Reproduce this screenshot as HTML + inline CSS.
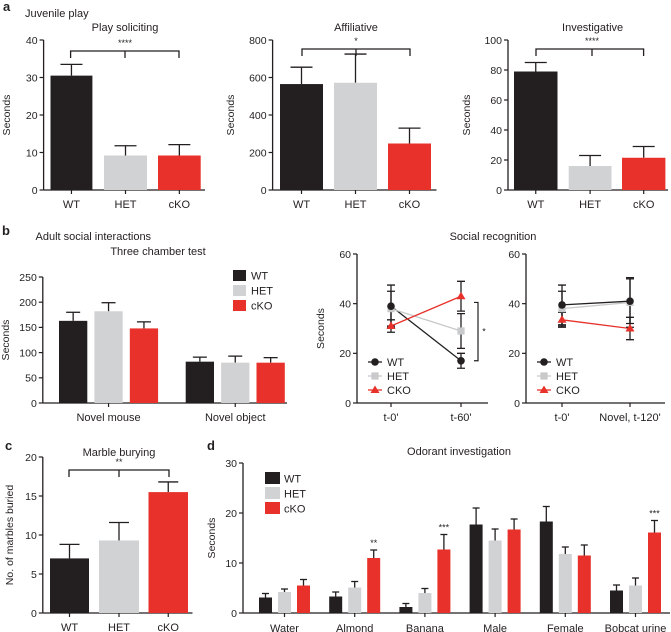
<!DOCTYPE html>
<html><head><meta charset="utf-8"><style>
html,body{margin:0;padding:0;background:#fff;}
svg{display:block;font-family:"Liberation Sans",sans-serif;}
text{fill:#231f20;}
</style></head><body>
<svg id="fig" width="671" height="632" viewBox="0 0 671 632" xmlns="http://www.w3.org/2000/svg"></svg>
<script>
// ---- data ----
const groups3 = ["WT","HET","cKO"];
const playVals = [30.5, 9.2, 9.2];
const playErr = [3.0, 2.6, 2.9];
const affVals = [565, 572, 248];
const affErr = [90, 153, 82];
const invVals = [79, 16, 21.5];
const invErr = [6, 7, 7.5];
const tickPlay = [0,10,20,30,40];
const tickAff = [0,200,400,600,800];
const tickInv = [0,20,40,60,80,100];

const chamberCats = ["Novel mouse","Novel object"];
const chamberWT = [163, 82];
const chamberHET = [182, 80];
const chamberKO = [148, 80];
const chamberWTErr = [17, 9];
const chamberHETErr = [17, 13];
const chamberKOErr = [13, 10];
const tickChamber = [0,50,100,150,200,250];

const recCats1 = ["t-0'","t-60'"];
const recWT1 = [39, 17];
const recWT1Err = [8.5, 3];
const recHET1 = [38, 29];
const recHET1Err = [7, 7];
const recKO1 = [31, 43];
const recKO1Err = [2.5, 6];
const recCats2 = ["t-0'","Novel, t-120'"];
const recWT2 = [39.5, 41];
const recWT2Err = [8, 9];
const recHET2 = [38, 40.5];
const recHET2Err = [7, 10];
const recKO2 = [33.5, 30];
const recKO2Err = [3, 4.5];
const tickRec = [0,20,40,60];

const marbleVals = [7, 9.3, 15.5];
const marbleErr = [1.8, 2.3, 1.3];
const tickMarble = [0,5,10,15,20];

const odorCats = ["Water","Almond","Banana","Male","Female","Bobcat urine"];
const odorWT = [3.1, 3.3, 1.2, 17.7, 18.3, 4.5];
const odorHET = [4.2, 5.1, 4.0, 14.5, 11.8, 5.5];
const odorKO = [5.5, 11.0, 12.7, 16.7, 11.5, 16.1];
const odorWTErr = [0.8, 0.9, 0.7, 3.3, 3.0, 1.1];
const odorHETErr = [0.6, 1.2, 0.9, 2.3, 1.4, 1.5];
const odorKOErr = [1.2, 1.6, 3.0, 2.1, 2.1, 2.4];
const odorStars = ["","**","***","","","***"];
const tickOdor = [0,10,20,30];

const C = {wt:"#231f20", het:"#d1d2d4", ko:"#e8312a"};
const NS = "http://www.w3.org/2000/svg";
const svg = document.getElementById("fig");

function mk(tag, attrs, parent){
  const e = document.createElementNS(NS, tag);
  for (const k in attrs) e.setAttribute(k, attrs[k]);
  (parent||svg).appendChild(e);
  return e;
}
function txt(x,y,s,size,anchor,parent,name,extra){
  const t = mk("text",{x:x,y:y,"font-size":size,"text-anchor":anchor||"middle"},parent);
  t.textContent = s;
  
  
  if (extra) for (const k in extra) t.setAttribute(k, extra[k]);
  return t;
}
function yAxis(ax, x, y0, y1, ticks, yScale, xEnd, label, labelX, name){
  const g = mk("g",{});
  
  
  const l = mk("line",{x1:x,y1:y0,x2:x,y2:y1,stroke:"#231f20","stroke-width":1.3},g);
  
  
  const xl = mk("line",{x1:x,y1:y0,x2:xEnd,y2:y0,stroke:"#231f20","stroke-width":1.3},g);
  
  
  ticks.forEach(v=>{
    const y = yScale(v);
    const tl = mk("line",{x1:x-4,y1:y,x2:x,y2:y,stroke:"#231f20","stroke-width":1.2},g);
    
    
    txt(x-6, y+3.8, String(v), 10.5, "end", g, 'y-tick-label');
  });
  if (label){
    const cy = (y0+y1)/2;
    txt(labelX, cy, label, 10.5, "middle", g, 'y-axis-title', {transform:`rotate(-90 ${labelX} ${cy})`});
  }
  return g;
}
function bar(g, x0, x1, v, err, ys, color, capW, name){
  const y = ys(v), yb = ys(0);
  const cx = (x0+x1)/2;
  const ey = ys(v+err);
  const el = mk("line",{x1:cx,y1:y,x2:cx,y2:ey,stroke:"#231f20","stroke-width":1.3},g);
  
  
  const cap = mk("line",{x1:cx-capW/2,y1:ey,x2:cx+capW/2,y2:ey,stroke:"#231f20","stroke-width":1.3},g);
  
  
  const r = mk("rect",{x:x0,y:y,width:x1-x0,height:yb-y,fill:color},g);
  
  
}
function bracket(g, xa, xb, xm, y, drop, stars, name){
  const p = mk("path",{d:`M${xa} ${y+drop}V${y}H${xb}V${y+drop}M${xm} ${y}V${y+drop}`,fill:"none",stroke:"#231f20","stroke-width":1.3},g);
  
  
  txt(xm, y-5, stars, 9, "middle", g, 'significance-stars');
}

// ---- panel labels ----
txt(3,11,"a",13,"start",svg,'panel-label-a',{"font-weight":"bold"});
txt(25,17,"Juvenile play",11,"start",svg,'section-title-juvenile');
txt(2,235,"b",13,"start",svg,'panel-label-b',{"font-weight":"bold"});
txt(35.5,240,"Adult social interactions",11,"start",svg,'section-title-adult');
txt(5,450,"c",13,"start",svg,'panel-label-c',{"font-weight":"bold"});
txt(207,450,"d",13,"start",svg,'panel-label-d',{"font-weight":"bold"});

// ---- panel a ----
function juvenile(axX, xEnd, bars, vals, errs, ticks, max, title, titleX, br, stars, labX, name){
  const y0=190, y1=40;
  const ys = v => y0 - v/max*(y0-y1);
  const g = yAxis(null, axX, y0, y1, ticks, ys, xEnd, "Seconds", labX, name);
  txt(titleX, 31, title, 11, "middle", g, 'chart-title');
  const cols=[C.wt,C.het,C.ko];
  vals.forEach((v,i)=>{
    bar(g, bars[i][0], bars[i][1], v, errs[i], ys, cols[i], 22, 'bar-'+groups3[i].toLowerCase());
    const cx=(bars[i][0]+bars[i][1])/2;
    const tk = mk("line",{x1:cx,y1:y0,x2:cx,y2:y0+4,stroke:"#231f20","stroke-width":1.2},g);
    
    
    txt(cx, 208, groups3[i], 11, "middle", g, 'x-tick-label');
  });
  bracket(g, br[0], br[1], br[2], br[3], 7, stars, 'significance-bracket');
}
juvenile(43.6,205,[[50.5,92.4],[104,147],[158,200.7]],playVals,playErr,tickPlay,40,"Play soliciting",125,[70.6,179,125,51],"****",10,'chart-play-soliciting');
juvenile(272.6,436.5,[[280,323],[334,377],[388,431]],affVals,affErr,tickAff,800,"Affiliative",356,[302,410,356,49],"*",234,'chart-affiliative');
juvenile(508,668,[[514,557.5],[568.7,611.5],[622,665.4]],invVals,invErr,tickInv,100,"Investigative",592.6,[536,643.6,592,49],"****",470,'chart-investigative');

// ---- panel b1 three chamber ----
(function(){
  const y0=403, y1=277, max=250;
  const ys = v => y0 - v/max*(y0-y1);
  const g = yAxis(null, 42.8, y0, y1, tickChamber, ys, 287, "Seconds", 9, 'chart-three-chamber');
  txt(158,255,"Three chamber test",11,"middle",g,'chart-title');
  const series=[chamberWT,chamberHET,chamberKO], errs=[chamberWTErr,chamberHETErr,chamberKOErr], cols=[C.wt,C.het,C.ko];
  const gx=[59,185.7], bw=28.3, step=35.4;
  chamberCats.forEach((c,ci)=>{
    series.forEach((s,si)=>{
      const x0 = gx[ci]+si*step;
      bar(g, x0, x0+bw, s[ci], errs[si][ci], ys, cols[si], 14, 'bar-'+groups3[si].toLowerCase()+'-'+ci);
    });
    const cx = gx[ci]+step+bw/2;
    const tk = mk("line",{x1:cx,y1:y0,x2:cx,y2:y0+4,stroke:"#231f20","stroke-width":1.2},g);
    
    
    txt(cx, 421, c, 11, "middle", g, 'x-tick-label');
  });
  groups3.forEach((n,i)=>{
    const y=[275,290,305][i];
    const r = mk("rect",{x:233,y:y-5,width:13,height:11,fill:cols[i]},g);
    
    
    txt(251, y+4.5, n, 11, "start", g, 'legend-entry');
  });
})();

// ---- panel b2/b3 social recognition ----
txt(493,240,"Social recognition",11,"middle",svg,'section-title-social-recognition');
function marker(g, type, x, y, color, name){
  let m;
  if (type==="circle") m = mk("circle",{cx:x,cy:y,r:3.8,fill:color},g);
  else if (type==="square") m = mk("rect",{x:x-3.6,y:y-3.6,width:7.2,height:7.2,fill:color},g);
  else m = mk("path",{d:`M${x} ${y-4.5}L${x+4.5} ${y+3}L${x-4.5} ${y+3}Z`,fill:color},g);
  
  
}
function recog(axX, xEnd, px, cats, series, errs, legX, labX, name, sig){
  const y0=403, y1=254, max=60;
  const ys = v => y0 - v/max*(y0-y1);
  const g = yAxis(null, axX, y0, y1, tickRec, ys, xEnd, labX?"Seconds":null, labX, name);
  const cols=["#231f20","#c8c9cb","#e8312a"], types=["circle","square","triangle"], names=["WT","HET","CKO"];
  cats.forEach((c,i)=>{
    const tk = mk("line",{x1:px[i],y1:y0,x2:px[i],y2:y0+4,stroke:"#231f20","stroke-width":1.2},g);
    
    
    txt(px[i], 421, c, 11, "middle", g, 'x-tick-label');
  });
  series.forEach((s,si)=>{
    const pts = s.map((v,i)=>`${px[i]},${ys(v)}`).join(" ");
    const pl = mk("polyline",{points:pts,fill:"none",stroke:cols[si],"stroke-width":1.3},g);
    
    
  });
  [2,1,0].forEach(si=>{
    series[si].forEach((v,i)=>{
      const e=errs[si][i];
      const p = mk("path",{d:`M${px[i]} ${ys(v+e)}V${ys(v-e)}M${px[i]-4} ${ys(v+e)}H${px[i]+4}M${px[i]-4} ${ys(v-e)}H${px[i]+4}`,stroke:"#231f20","stroke-width":1.3,fill:"none"},g);
      
      
    });
  });
  [1,0,2].forEach(si=>{
    series[si].forEach((v,i)=>marker(g, types[si], px[i], ys(v), cols[si], 'point-'+names[si].toLowerCase()));
  });
  names.forEach((n,i)=>{
    const y=[362,376,390][i];
    const ln = mk("line",{x1:legX-7,y1:y,x2:legX+7,y2:y,stroke:cols[i],"stroke-width":1.3},g);
    
    
    marker(g, types[i], legX, y, cols[i], 'legend-marker-'+n.toLowerCase());
    txt(legX+12, y+4, n, 11, "start", g, 'legend-entry');
  });
  if (sig){
    const p = mk("path",{d:`M${sig[0]-4} ${ys(sig[1])}H${sig[0]}V${ys(sig[2])}H${sig[0]-4}`,fill:"none",stroke:"#231f20","stroke-width":1.2},g);
    
    
    txt(sig[0]+6, (ys(sig[1])+ys(sig[2]))/2+3, "*", 9, "middle", g, 'significance-stars');
  }
}
recog(357, 488, [391,461], recCats1, [recWT1,recHET1,recKO1], [recWT1Err,recHET1Err,recKO1Err], 375, 324, 'chart-social-recognition-60', [478,40.5,17]);
recog(526, 665, [562,630], recCats2, [recWT2,recHET2,recKO2], [recWT2Err,recHET2Err,recKO2Err], 544, 0, 'chart-social-recognition-120', null);

// ---- panel c marble ----
(function(){
  const y0=613, y1=457, max=20;
  const ys = v => y0 - v/max*(y0-y1);
  const g = yAxis(null, 42.8, y0, y1, tickMarble, ys, 192.5, "No. of marbles buried", 13, 'chart-marble-burying');
  txt(119,456,"Marble burying",11,"middle",g,'chart-title');
  const bars=[[50,89],[99,139],[148.5,188]], cols=[C.wt,C.het,C.ko];
  marbleVals.forEach((v,i)=>{
    bar(g, bars[i][0], bars[i][1], v, marbleErr[i], ys, cols[i], 20, 'bar-'+groups3[i].toLowerCase());
    const cx=(bars[i][0]+bars[i][1])/2;
    const tk = mk("line",{x1:cx,y1:y0,x2:cx,y2:y0+4,stroke:"#231f20","stroke-width":1.2},g);
    
    
    txt(cx, 631, groups3[i], 11, "middle", g, 'x-tick-label');
  });
  bracket(g, 69, 169, 119, 470, 7, "**", 'significance-bracket');
})();

// ---- panel d odorant ----
(function(){
  const y0=613, y1=463, max=30;
  const ys = v => y0 - v/max*(y0-y1);
  const g = yAxis(null, 243, y0, y1, tickOdor, ys, 670, "Seconds", 215, 'chart-odorant');
  txt(459,455,"Odorant investigation",11,"middle",g,'chart-title');
  const series=[odorWT,odorHET,odorKO], errs=[odorWTErr,odorHETErr,odorKOErr], cols=[C.wt,C.het,C.ko];
  const gStart=259, gStep=70.2, bStep=19, bw=13;
  odorCats.forEach((c,ci)=>{
    series.forEach((s,si)=>{
      const x0 = gStart+ci*gStep+si*bStep;
      bar(g, x0, x0+bw, s[ci], errs[si][ci], ys, cols[si], 7, 'bar-'+groups3[si].toLowerCase()+'-'+ci);
    });
    const cx = gStart+ci*gStep+bStep+bw/2;
    const tk = mk("line",{x1:cx,y1:y0,x2:cx,y2:y0+4,stroke:"#231f20","stroke-width":1.2},g);
    
    
    txt(cx, 632, c, 11, "middle", g, 'x-tick-label');
    if (odorStars[ci]){
      const kx = gStart+ci*gStep+2*bStep+bw/2;
      txt(kx, ys(odorKO[ci]+odorKOErr[ci])-4, odorStars[ci], 9, "middle", g, 'significance-stars');
    }
  });
  groups3.forEach((n,i)=>{
    const y=[478,493,508][i];
    const r = mk("rect",{x:265,y:y-6,width:15,height:12,fill:cols[i]},g);
    
    
    txt(284, y+4.5, n, 11, "start", g, 'legend-entry');
  });
})();
</script>
</body></html>
